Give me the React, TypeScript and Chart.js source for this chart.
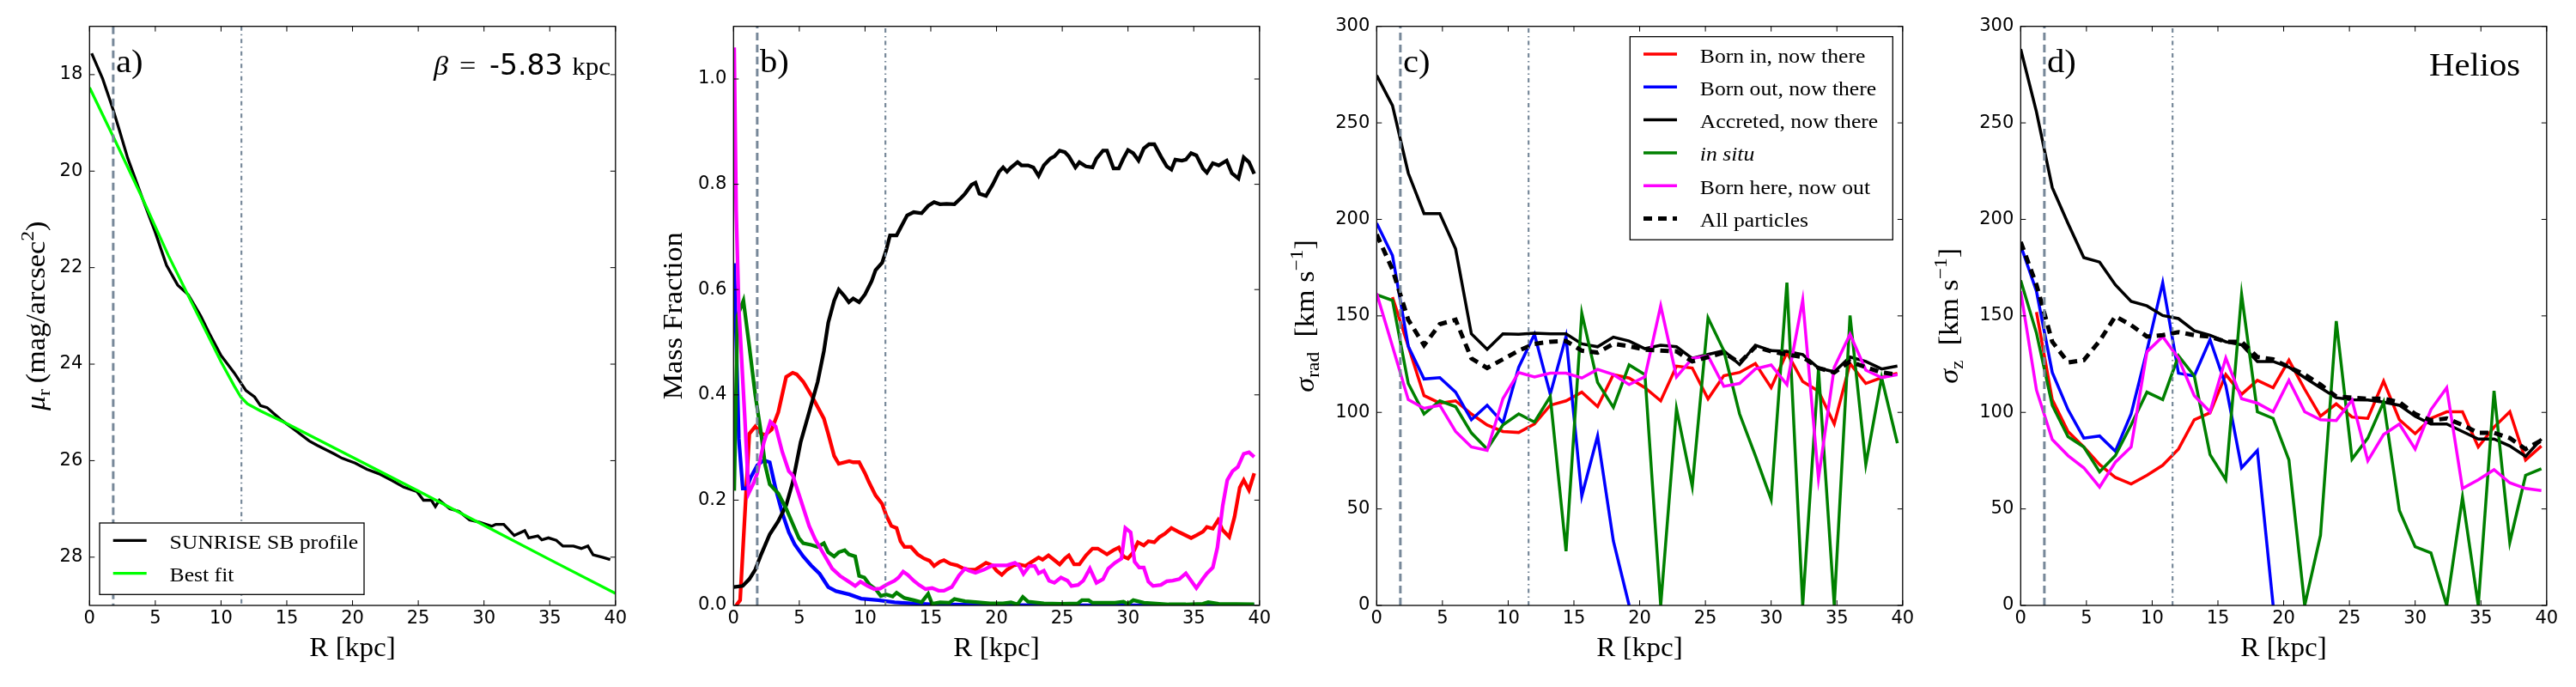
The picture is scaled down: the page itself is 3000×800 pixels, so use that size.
import React, { useEffect, useRef } from 'react';
import { Chart, registerables } from 'chart.js';

Chart.register(...registerables);

// ---------- data ----------

// break radii marked by the vertical lines (kpc)
const breakRadii = [1.8, 11.55];
const betaKpc = -5.83;

// a) surface brightness profile
const profR = [0.16, 1.0, 1.8, 2.3, 2.9, 4.0, 5.0, 5.85, 6.7, 7.5, 8.45, 9.1, 10.0, 11.0, 11.9, 12.55, 13.0, 13.5, 14.5, 15.4, 16.7, 17.3, 18.6, 19.2, 20.2, 21.1, 22.0, 23.0, 23.9, 24.9, 25.4, 26.0, 26.3, 26.6, 27.4, 28.1, 28.9, 29.6, 30.6, 30.9, 31.5, 32.3, 33.1, 33.4, 34.1, 34.4, 34.9, 35.5, 36.0, 36.8, 37.4, 37.9, 38.3, 39.0, 39.6];
const profMu = [17.56, 18.09, 18.73, 19.18, 19.73, 20.55, 21.27, 21.95, 22.36, 22.56, 23.0, 23.36, 23.82, 24.18, 24.55, 24.68, 24.86, 24.9, 25.14, 25.32, 25.59, 25.68, 25.86, 25.95, 26.05, 26.18, 26.27, 26.41, 26.55, 26.64, 26.82, 26.82, 26.95, 26.82, 27.0, 27.05, 27.23, 27.27, 27.36, 27.32, 27.32, 27.55, 27.45, 27.6, 27.56, 27.64, 27.6, 27.65, 27.77, 27.77, 27.82, 27.77, 27.95, 28.0, 28.05];
const fitR = [0, 2, 4, 6, 8, 10, 11, 11.5, 12, 13, 15, 20, 25, 30, 35, 40];
const fitMu = [18.27, 19.4, 20.55, 21.75, 22.85, 23.95, 24.45, 24.68, 24.82, 24.97, 25.23, 25.93, 26.63, 27.34, 28.05, 28.75];

// b) mass fractions
const fracAccR = [0, 0.7, 1.2, 1.65, 2.1, 2.75, 3.4, 4.0, 4.5, 5.1, 5.75, 6.4, 6.87, 7.2, 7.65, 8.0, 8.45, 8.77, 9.1, 9.55, 10.0, 10.5, 10.8, 11.3, 11.6, 11.9, 12.4, 13.2, 13.7, 14.3, 14.8, 15.25, 15.7, 16.2, 16.8, 17.3, 17.6, 18.1, 18.4, 18.7, 19.2, 19.7, 20.2, 20.5, 20.8, 21.1, 21.6, 21.9, 22.4, 22.8, 23.2, 23.6, 24.1, 24.4, 24.8, 25.2, 25.5, 26.0, 26.3, 26.8, 27.3, 27.6, 28.1, 28.4, 28.9, 29.3, 29.65, 30.0, 30.4, 30.8, 31.2, 31.6, 32.0, 32.5, 32.95, 33.3, 33.6, 34.1, 34.4, 34.8, 35.2, 35.7, 36.0, 36.45, 36.9, 37.5, 37.9, 38.4, 38.8, 39.2, 39.6];
const fracAcc = [0.035, 0.037, 0.05, 0.068, 0.097, 0.135, 0.16, 0.19, 0.234, 0.31, 0.367, 0.425, 0.483, 0.537, 0.579, 0.6, 0.587, 0.576, 0.583, 0.576, 0.591, 0.616, 0.637, 0.651, 0.674, 0.703, 0.703, 0.741, 0.747, 0.745, 0.759, 0.766, 0.762, 0.763, 0.762, 0.774, 0.782, 0.799, 0.803, 0.782, 0.778, 0.799, 0.824, 0.832, 0.824, 0.832, 0.842, 0.836, 0.836, 0.832, 0.816, 0.836, 0.849, 0.853, 0.864, 0.861, 0.853, 0.832, 0.842, 0.834, 0.832, 0.849, 0.864, 0.864, 0.83, 0.83, 0.849, 0.865, 0.859, 0.845, 0.868, 0.876, 0.876, 0.853, 0.834, 0.828, 0.847, 0.845, 0.847, 0.859, 0.855, 0.83, 0.822, 0.84, 0.836, 0.845, 0.821, 0.811, 0.851, 0.842, 0.82];
const fracInR = [0.2, 0.5, 1.2, 1.65, 2.1, 2.4, 2.9, 3.4, 4.0, 4.5, 4.8, 5.3, 5.9, 6.87, 7.2, 7.65, 8.0, 8.8, 9.1, 9.55, 10.0, 10.3, 10.8, 11.3, 11.6, 12.0, 12.4, 12.7, 13.0, 13.5, 14.0, 14.5, 14.9, 15.25, 15.7, 16.0, 16.5, 17.0, 17.5, 17.9, 18.4, 19.2, 19.7, 20.0, 20.4, 20.8, 21.3, 21.7, 22.2, 22.7, 23.2, 23.5, 23.95, 24.4, 24.8, 25.2, 25.5, 25.9, 26.3, 26.8, 27.3, 27.7, 28.4, 28.9, 29.3, 29.65, 30.0, 30.4, 30.75, 31.2, 31.55, 32.0, 32.4, 32.8, 33.3, 33.9, 34.8, 35.2, 35.7, 36.0, 36.45, 36.85, 37.2, 37.7, 38.1, 38.5, 38.8, 39.2, 39.6];
const fracIn = [0.0, 0.01, 0.326, 0.34, 0.326, 0.324, 0.334, 0.367, 0.434, 0.442, 0.439, 0.425, 0.4, 0.355, 0.326, 0.284, 0.269, 0.274, 0.272, 0.272, 0.251, 0.234, 0.209, 0.193, 0.172, 0.151, 0.147, 0.122, 0.111, 0.111, 0.097, 0.089, 0.085, 0.075, 0.083, 0.086, 0.079, 0.076, 0.07, 0.068, 0.068, 0.081, 0.076, 0.066, 0.058, 0.068, 0.076, 0.078, 0.075, 0.083, 0.091, 0.087, 0.095, 0.086, 0.078, 0.089, 0.095, 0.078, 0.078, 0.095, 0.108, 0.108, 0.097, 0.105, 0.11, 0.093, 0.089, 0.101, 0.12, 0.114, 0.122, 0.12, 0.13, 0.136, 0.147, 0.139, 0.128, 0.133, 0.14, 0.149, 0.146, 0.162, 0.143, 0.13, 0.168, 0.224, 0.238, 0.219, 0.251];
const fracOutR = [0.05, 0.4, 0.7, 1.0, 1.3, 1.8, 2.3, 2.75, 3.2, 3.7, 4.2, 4.65, 5.3, 5.9, 6.55, 7.2, 7.8, 8.8, 9.7, 11.0, 12.25, 13.5, 15.4, 18.6, 20.5, 25, 30, 35, 39.6];
const fracOut = [0.65, 0.317, 0.222, 0.222, 0.243, 0.266, 0.276, 0.272, 0.222, 0.176, 0.139, 0.116, 0.093, 0.076, 0.06, 0.035, 0.027, 0.021, 0.013, 0.01, 0.006, 0.004, 0.002, 0.001, 0.0005, 0.0003, 0.0003, 0.0002, 0.0002];
const fracSituR = [0.05, 0.3, 0.75, 1.2, 1.65, 2.1, 2.4, 2.75, 3.4, 4.0, 4.5, 4.97, 5.3, 5.9, 6.4, 6.87, 7.2, 7.65, 8.0, 8.45, 8.77, 9.25, 9.55, 9.95, 10.35, 10.8, 11.2, 11.6, 12.1, 12.4, 13.0, 13.7, 14.3, 14.8, 15.1, 15.7, 16.4, 16.8, 17.6, 18.6, 19.5, 20.5, 21.1, 21.6, 22.0, 22.4, 23.6, 24.9, 26.2, 26.5, 27.0, 27.3, 28.1, 29.0, 29.65, 30.0, 30.4, 31.2, 33.1, 34.4, 35.7, 36.1, 36.9, 39.6];
const fracSitu = [0.218, 0.55, 0.579, 0.492, 0.4, 0.326, 0.267, 0.23, 0.213, 0.184, 0.155, 0.128, 0.118, 0.115, 0.111, 0.118, 0.101, 0.093, 0.101, 0.105, 0.097, 0.093, 0.056, 0.053, 0.039, 0.031, 0.018, 0.021, 0.017, 0.024, 0.014, 0.01, 0.006, 0.022, 0.003, 0.006, 0.005, 0.012, 0.008, 0.006, 0.004, 0.004, 0.006, 0.002, 0.016, 0.007, 0.004, 0.003, 0.004, 0.01, 0.01, 0.005, 0.005, 0.005, 0.007, 0.003, 0.01, 0.005, 0.002, 0.002, 0.003, 0.006, 0.003, 0.002];
const fracHereOutR = [0.05, 0.2, 0.4, 0.85, 1.15, 1.55, 1.8, 2.3, 2.8, 3.2, 3.7, 4.2, 4.5, 5.1, 5.75, 6.2, 6.87, 7.5, 8.1, 8.77, 9.25, 9.65, 10.2, 10.7, 11.15, 11.6, 12.25, 12.55, 12.9, 13.25, 13.7, 14.1, 14.6, 15.1, 15.6, 16.0, 16.6, 17.15, 17.6, 17.9, 18.4, 19.05, 19.7, 20.2, 20.8, 21.4, 21.7, 22.05, 22.5, 22.9, 23.2, 23.6, 24.0, 24.4, 24.9, 25.4, 25.7, 26.2, 26.6, 27.1, 27.6, 28.1, 28.5, 29.0, 29.5, 29.8, 30.2, 30.5, 30.85, 31.2, 31.55, 31.9, 32.5, 32.95, 33.4, 33.9, 34.4, 34.8, 35.2, 35.7, 36.0, 36.45, 36.8, 37.2, 37.55, 37.95, 38.35, 38.8, 39.2, 39.6];
const fracHereOut = [1.06, 0.75, 0.566, 0.359, 0.213, 0.234, 0.251, 0.309, 0.349, 0.34, 0.292, 0.255, 0.247, 0.201, 0.151, 0.126, 0.097, 0.07, 0.056, 0.045, 0.037, 0.045, 0.037, 0.031, 0.032, 0.039, 0.047, 0.053, 0.064, 0.058, 0.047, 0.039, 0.031, 0.033, 0.028, 0.028, 0.035, 0.057, 0.07, 0.066, 0.062, 0.068, 0.076, 0.076, 0.076, 0.081, 0.076, 0.06, 0.075, 0.075, 0.061, 0.066, 0.047, 0.043, 0.053, 0.047, 0.037, 0.039, 0.047, 0.07, 0.043, 0.05, 0.07, 0.081, 0.089, 0.147, 0.139, 0.083, 0.072, 0.072, 0.045, 0.037, 0.039, 0.046, 0.047, 0.05, 0.061, 0.047, 0.033, 0.051, 0.061, 0.072, 0.11, 0.189, 0.238, 0.255, 0.263, 0.288, 0.291, 0.282];

// c), d) velocity dispersions in radial bins (kpc)
const binR = [0, 1.2, 2.4, 3.6, 4.8, 6.0, 7.2, 8.4, 9.6, 10.8, 12.0, 13.2, 14.4, 15.6, 16.8, 18.0, 19.2, 20.4, 21.6, 22.8, 24.0, 25.2, 26.4, 27.6, 28.8, 30.0, 31.2, 32.4, 33.6, 34.8, 36.0, 37.2, 38.4, 39.6];

const radIn = [null, 159.7, 134.3, 108.7, 104.8, 106, 99.2, 93.5, 90.1, 89.6, 94, 103.7, 106, 110.5, 103, 119.6, 117.8, 112.8, 106, 124, 123, 107, 119, 120.7, 125.3, 112.8, 131, 116, 111, 94, 125.3, 115, 118, 120.3];
const radOut = [198, 181.3, 134.3, 117.3, 118, 110.5, 96.2, 103.7, 94.6, 123.4, 140.5, 109.4, 139.3, 56.7, 87.8, 33.4, 0, null, null, null, null, null, null, null, null, null, null, null, null, null, null, null, null, null];
const radAcc = [274.6, 259, 224, 203, 203, 184.7, 140.7, 132.7, 140.7, 140.5, 141, 140.7, 140.7, 135.5, 134, 139, 137, 133, 134.8, 134, 128, 130, 132, 124.8, 134.8, 132, 131.6, 130, 123, 121, 128.7, 126.4, 122.5, 124];
const radSitu = [161, 158, 115, 99.2, 106, 103, 89.4, 81, 93.5, 99.2, 95, 108.2, 28.1, 151.4, 115.5, 102.6, 124.6, 119.6, 0, 101.9, 61.7, 149, 132, 99.2, 77.6, 54.9, 167.2, 0, 122.3, 0, 150.2, 73, 118, 84];
const radHereOut = [161.6, 134.3, 106.6, 102.1, 103.7, 90.1, 82.1, 80.3, 107.1, 120.7, 118.4, 120.3, 120.3, 117.8, 122.3, 119.6, 114.4, 118.4, 155.2, 118.4, 128, 129.3, 113.5, 115, 122.5, 124.6, 114.4, 158.2, 65.8, 123.4, 140.5, 121.9, 118, 119.6];
const radAll = [192.2, 174, 148, 134.8, 145.7, 148, 128, 123, 127.5, 132, 135.5, 136.6, 137, 132, 131, 135.5, 134.3, 132.5, 132, 131.6, 126.4, 128.7, 131, 125.7, 134, 131.6, 130, 128.7, 123, 120.7, 126.4, 123.4, 120.7, 119.6];

const zIn = [null, 152, 106.6, 90.1, 82.1, 73, 66.3, 62.9, 67.4, 72.6, 81, 96.2, 99.8, 119.6, 109.4, 116.6, 112.8, 127.1, 112, 98, 104.4, 97.6, 96.9, 116.2, 96.2, 89, 96.9, 100.3, 100.3, 82.1, 92.4, 100.3, 75.3, 82.6];
const zOut = [186.5, 162.7, 120.7, 101.4, 86.7, 87.8, 79.9, 99.2, 132, 167.2, 120.3, 118.9, 137.7, 113.9, 71.3, 80.3, 0, null, null, null, null, null, null, null, null, null, null, null, null, null, null, null, null, null];
const zAcc = [288.2, 255.7, 216.5, 197.9, 180.2, 177.9, 166.1, 157.5, 155.2, 150.2, 148.6, 142.3, 140, 136.6, 135, 126.4, 126.4, 123.4, 118, 112.8, 107.6, 106.6, 106.4, 105.3, 103.7, 98, 94, 94, 90.1, 86.2, 86.2, 82.6, 77.2, 86.2];
const zSitu = [168.4, 141.1, 103.7, 87.4, 82.1, 69.2, 77.6, 93.5, 110.5, 106.6, 129.3, 118.9, 78.1, 65.1, 161.1, 100.3, 96.9, 75.3, 0, 36.3, 147.3, 75.8, 86.7, 105.3, 49.2, 30.4, 27.2, 0, 56, 0, 111.2, 32.7, 67.4, 70.8];
const zHereOut = [162.7, 111.6, 86, 77.6, 71.3, 61.3, 74.2, 82.1, 131.4, 139.3, 128, 108.7, 100.3, 128.2, 107.1, 104.8, 100.3, 116.6, 100.3, 96.2, 95.8, 106.4, 74.9, 88.5, 94, 81, 101.4, 112.8, 60.6, 65.1, 70.3, 63.5, 60.6, 59.5];
const zAll = [188.3, 166.1, 136.6, 125.9, 127.1, 137, 149.8, 145.2, 139.3, 140, 141.6, 140, 139.3, 136.6, 136.6, 128.7, 127.5, 123.4, 119.6, 114.4, 108.2, 107.6, 107.1, 107.1, 105.3, 99.2, 95.8, 96.9, 93.5, 89.4, 89.4, 86.7, 81, 85.5];

const xTicks = [0, 5, 10, 15, 20, 25, 30, 35, 40];
const muTicks = [18, 20, 22, 24, 26, 28];
const fracTicks = [0, 0.2, 0.4, 0.6, 0.8, 1.0];
const sigmaTicks = [0, 50, 100, 150, 200, 250, 300];

// ---------- look ----------

const SERIF = '"Liberation Serif", "DejaVu Serif", serif';
const SANS = '"DejaVu Sans", sans-serif';
const STRETCH = 1.07; // Computer Modern is wider than Times
const PANEL_W = 750;
const PANEL_H = 800;
const PLOT_LEFT = 104.3;
const PLOT_TOP = 30.7;
const PLOT_W = 612.5;
const PLOT_BOTTOM = 705;
const TICK = 6;
const SLATE = '#778899';

type Seg = { t: string; size?: number; italic?: boolean; dy?: number; sans?: boolean };

const segFont = (s: Seg) =>
  `${s.italic ? 'italic ' : ''}${s.size ?? 32}px ${s.sans ? SANS : SERIF}`;

function drawSegs(ctx: CanvasRenderingContext2D, segs: Seg[], x: number, y: number, align: 'left' | 'center' | 'right') {
  const widths = segs.map((s) => {
    ctx.font = segFont(s);
    return ctx.measureText(s.t).width * (s.sans ? 1 : STRETCH);
  });
  const total = widths.reduce((p, w) => p + w, 0);
  let cx = align === 'left' ? x : align === 'center' ? x - total / 2 : x - total;
  segs.forEach((s, i) => {
    ctx.save();
    ctx.font = segFont(s);
    ctx.fillStyle = '#000';
    ctx.textAlign = 'left';
    ctx.textBaseline = 'alphabetic';
    ctx.translate(cx, y + (s.dy ?? 0));
    if (!s.sans) ctx.scale(STRETCH, 1);
    ctx.fillText(s.t, 0, 0);
    ctx.restore();
    cx += widths[i];
  });
}

const series = (label: string, xs: number[], ys: (number | null)[], color: string, width: number, extra: any = {}) => ({
  label,
  data: xs.map((x, i) => ({ x, y: ys[i] })),
  borderColor: color,
  backgroundColor: color,
  borderWidth: width,
  pointRadius: 0,
  tension: 0,
  fill: false,
  clip: 0,
  spanGaps: false,
  ...extra,
});

const markers = (yMin: number, yMax: number) => [
  series('', [breakRadii[0], breakRadii[0]], [yMin, yMax], SLATE, 3, { borderDash: [9, 5] }),
  series('', [breakRadii[1], breakRadii[1]], [yMin, yMax], SLATE, 2.2, { borderDash: [5, 4, 1.5, 4] }),
];

type Legend = { x: number; y: number; w: number };

type PanelCfg = {
  offset: number;
  tag: string;
  yMin: number;
  yMax: number;
  reverse?: boolean;
  yTicks: number[];
  yFmt: (v: number) => string;
  lines: any[];
  ylabel: Seg[];
  ylabelX: number;
  legend?: Legend;
  corner?: 'beta' | 'helios';
};

const sigmaLines = (inn: any[], out: any[], acc: any[], situ: any[], here: any[], all: any[]) => [
  series('Born in, now there', binR, inn, '#ff0000', 3.5),
  series('Born out, now there', binR, out, '#0000ff', 3.5),
  series('Accreted, now there', binR, acc, '#000000', 3.5),
  series('in situ', binR, situ, '#008000', 3.5, { italicLabel: true }),
  series('Born here, now out', binR, here, '#ff00ff', 3.5),
  series('All particles', binR, all, '#000000', 5, { borderDash: [10, 7] }),
];

const panels: PanelCfg[] = [
  {
    offset: 0,
    tag: 'a)',
    yMin: 17,
    yMax: 29,
    reverse: true,
    yTicks: muTicks,
    yFmt: (v) => String(v),
    lines: [
      series('SUNRISE SB profile', profR, profMu, '#000000', 3.3),
      series('Best fit', fitR, fitMu, '#00ff00', 3.3),
    ],
    ylabel: [
      { t: 'μ', italic: true },
      { t: 'r', size: 22, dy: 6 },
      { t: '\u2009(mag/arcsec' },
      { t: '2', size: 22, dy: -13 },
      { t: ')' },
    ],
    ylabelX: -52,
    legend: { x: 11.7, y: 578.3, w: 308 },
    corner: 'beta',
  },
  {
    offset: 749.5,
    tag: 'b)',
    yMin: 0,
    yMax: 1.1,
    yTicks: fracTicks,
    yFmt: (v) => v.toFixed(1),
    lines: [
      series('Born in, now there', fracInR, fracIn, '#ff0000', 4.3),
      series('Born out, now there', fracOutR, fracOut, '#0000ff', 4.3),
      series('Accreted, now there', fracAccR, fracAcc, '#000000', 4.3),
      series('in situ', fracSituR, fracSitu, '#008000', 4.3),
      series('Born here, now out', fracHereOutR, fracHereOut, '#ff00ff', 4.3),
    ],
    ylabel: [{ t: 'Mass Fraction' }],
    ylabelX: -60,
  },
  {
    offset: 1499,
    tag: 'c)',
    yMin: 0,
    yMax: 300,
    yTicks: sigmaTicks,
    yFmt: (v) => String(v),
    lines: sigmaLines(radIn, radOut, radAcc, radSitu, radHereOut, radAll),
    ylabel: [
      { t: 'σ', italic: true },
      { t: 'rad', size: 22, dy: 6 },
      { t: '\u2002[km s' },
      { t: '−1', size: 22, dy: -13 },
      { t: ']' },
    ],
    ylabelX: -73,
    legend: { x: 295, y: 12, w: 306 },
  },
  {
    offset: 2249,
    tag: 'd)',
    yMin: 0,
    yMax: 300,
    yTicks: sigmaTicks,
    yFmt: (v) => String(v),
    lines: sigmaLines(zIn, zOut, zAcc, zSitu, zHereOut, zAll),
    ylabel: [
      { t: 'σ', italic: true },
      { t: 'z', size: 22, dy: 6 },
      { t: '\u2002[km s' },
      { t: '−1', size: 22, dy: -13 },
      { t: ']' },
    ],
    ylabelX: -73,
    corner: 'helios',
  },
];

function decor(cfg: PanelCfg) {
  return {
    id: 'decor',
    afterDraw(chart: any) {
      const { ctx, chartArea: a, scales } = chart;
      const w = a.right - a.left;
      ctx.save();

      // frame with inward ticks on all four sides
      ctx.strokeStyle = '#000';
      ctx.lineWidth = 1.3;
      ctx.strokeRect(a.left, a.top, w, a.bottom - a.top);
      ctx.lineWidth = 1;
      ctx.beginPath();
      scales.x.ticks.forEach((t: any) => {
        const p = scales.x.getPixelForValue(t.value);
        ctx.moveTo(p, a.bottom);
        ctx.lineTo(p, a.bottom - TICK);
        ctx.moveTo(p, a.top);
        ctx.lineTo(p, a.top + TICK);
      });
      scales.y.ticks.forEach((t: any) => {
        const p = scales.y.getPixelForValue(t.value);
        ctx.moveTo(a.left, p);
        ctx.lineTo(a.left + TICK, p);
        ctx.moveTo(a.right, p);
        ctx.lineTo(a.right - TICK, p);
      });
      ctx.stroke();

      // legend box
      if (cfg.legend) {
        const items = chart.data.datasets.filter((d: any) => d.label);
        const lx = a.left + cfg.legend.x;
        const ly = a.top + cfg.legend.y;
        const rowH = 38.3;
        const h = 20.3 + (items.length - 1) * rowH + 24.7;
        ctx.fillStyle = '#fff';
        ctx.fillRect(lx, ly, cfg.legend.w, h);
        ctx.strokeStyle = '#000';
        ctx.lineWidth = 1.3;
        ctx.strokeRect(lx, ly, cfg.legend.w, h);
        items.forEach((d: any, i: number) => {
          const cy = ly + 20.3 + i * rowH;
          ctx.save();
          ctx.strokeStyle = d.borderColor;
          ctx.lineWidth = d.borderWidth;
          ctx.setLineDash(d.borderDash || []);
          ctx.beginPath();
          ctx.moveTo(lx + 15.7, cy);
          ctx.lineTo(lx + 54.7, cy);
          ctx.stroke();
          ctx.restore();
          drawSegs(ctx, [{ t: d.label, size: 24, italic: !!d.italicLabel }], lx + 81.5, cy + 9.5, 'left');
        });
      }

      // panel tag
      drawSegs(ctx, [{ t: cfg.tag, size: 38 }], a.left + 0.05 * w, a.top + 53.5, 'left');

      if (cfg.corner === 'beta') {
        const by = a.top + 56;
        drawSegs(ctx, [{ t: 'β', italic: true, size: 32 }], a.left + 400.7, by, 'left');
        drawSegs(ctx, [{ t: '=', size: 32 }], a.left + 430.7, by, 'left');
        drawSegs(ctx, [{ t: betaKpc.toFixed(2), sans: true, size: 33 }], a.left + 465.7, by, 'left');
        drawSegs(ctx, [{ t: 'kpc', size: 29 }], a.left + 562, by, 'left');
      }
      if (cfg.corner === 'helios') {
        drawSegs(ctx, [{ t: 'Helios', size: 38 }], a.right - 0.05 * w, a.top + 57, 'right');
      }

      // axis titles
      drawSegs(ctx, [{ t: 'R [kpc]', size: 31 }], a.left + w / 2, a.bottom + 59, 'center');
      ctx.save();
      ctx.translate(a.left + cfg.ylabelX, (a.top + a.bottom) / 2);
      ctx.rotate(-Math.PI / 2);
      drawSegs(ctx, cfg.ylabel, 0, 0, 'center');
      ctx.restore();

      ctx.restore();
    },
  };
}

function Panel({ cfg }: { cfg: PanelCfg }) {
  const ref = useRef<HTMLCanvasElement>(null);

  useEffect(() => {
    const n = cfg.lines.length;
    // later series on top, like matplotlib; marker lines above everything
    const datasets = [
      ...cfg.lines.map((d, i) => ({ ...d, order: n - i })),
      ...markers(cfg.yMin, cfg.yMax).map((d) => ({ ...d, order: -1 })),
    ];
    const tickFont = { family: SANS, size: 21 };
    const chart = new Chart(ref.current!, {
      type: 'line',
      data: { datasets },
      options: {
        responsive: false,
        maintainAspectRatio: false,
        devicePixelRatio: 1,
        animation: false,
        events: [],
        layout: { padding: { left: 0, top: PLOT_TOP, right: PANEL_W - PLOT_LEFT - PLOT_W, bottom: 0 } },
        plugins: { legend: { display: false }, tooltip: { enabled: false } },
        scales: {
          x: {
            type: 'linear',
            min: 0,
            max: 40,
            grid: { display: false, drawTicks: false },
            border: { display: false },
            afterBuildTicks: (s: any) => {
              s.ticks = xTicks.map((v) => ({ value: v }));
            },
            afterFit: (s: any) => {
              s.height = PANEL_H - PLOT_BOTTOM;
            },
            ticks: { color: '#000', font: tickFont, padding: 3, autoSkip: false, maxRotation: 0, callback: (v: any) => String(v) },
          },
          y: {
            type: 'linear',
            min: cfg.yMin,
            max: cfg.yMax,
            reverse: !!cfg.reverse,
            grid: { display: false, drawTicks: false },
            border: { display: false },
            afterBuildTicks: (s: any) => {
              s.ticks = cfg.yTicks.map((v) => ({ value: v }));
            },
            afterFit: (s: any) => {
              s.width = PLOT_LEFT;
            },
            ticks: { color: '#000', font: tickFont, padding: 8, autoSkip: false, callback: (v: any) => cfg.yFmt(Number(v)) },
          },
        },
      } as any,
      plugins: [decor(cfg)],
    });
    return () => chart.destroy();
  }, [cfg]);

  return (
    <canvas
      ref={ref}
      width={PANEL_W}
      height={PANEL_H}
      style={{ position: 'absolute', left: cfg.offset, top: 0, width: PANEL_W, height: PANEL_H }}
    />
  );
}

export default function App() {
  return (
    <div style={{ position: 'fixed', left: 0, top: 0, width: 3000, height: 800, background: '#fff', overflow: 'hidden' }}>
      {panels.map((p) => (
        <Panel key={p.tag} cfg={p} />
      ))}
    </div>
  );
}
